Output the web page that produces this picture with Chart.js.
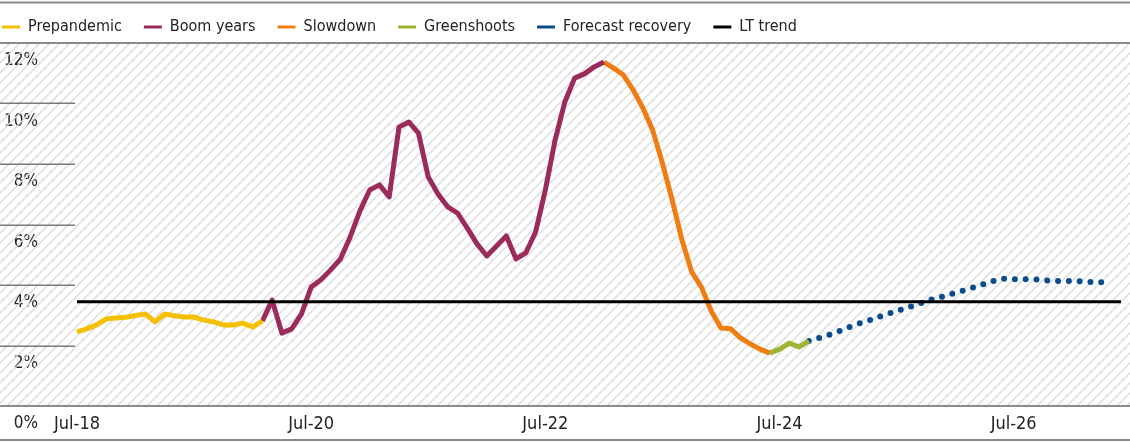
<!DOCTYPE html>
<html><head><meta charset="utf-8">
<script src="https://cdn.jsdelivr.net/npm/chart.js@4.4.0/dist/chart.umd.min.js"></script>
<style>html,body{margin:0;padding:0;background:#fff;}#wrap{width:1130px;height:443px;}</style>
</head><body><div id="wrap"><canvas id="c" width="1130" height="443"></canvas></div>
<script>
// ---- data ----
const startYear = 18, startMonthIndex = 6, monthCount = 108; // Jul-18 .. Jun-27
const tickLabels = ['Jul-18', 'Jul-20', 'Jul-22', 'Jul-24', 'Jul-26'];
const yTickValues = [0, 2, 4, 6, 8, 10, 12];

const prepandemicStart = 0;
const prepandemic = [2.45, 2.55, 2.68, 2.88, 2.91, 2.93, 2.99, 3.04, 2.78, 3.04, 2.98, 2.94, 2.94, 2.84, 2.78, 2.68, 2.68, 2.74, 2.61, 2.81];
const boomStart = 19;
const boomYears = [2.81, 3.50, 2.41, 2.55, 3.04, 3.93, 4.17, 4.50, 4.86, 5.59, 6.45, 7.14, 7.31, 6.91, 9.22, 9.39, 9.02, 7.57, 7.01, 6.58, 6.38, 5.88, 5.36, 4.96, 5.29, 5.62, 4.86, 5.06, 5.75, 7.14, 8.79, 10.05, 10.84, 10.98, 11.21, 11.37];
const slowdownStart = 54;
const slowdown = [11.37, 11.17, 10.94, 10.45, 9.85, 9.12, 8.03, 6.81, 5.49, 4.43, 3.93, 3.14, 2.58, 2.55, 2.25, 2.05, 1.88, 1.75];
const greenshootsStart = 71;
const greenshoots = [1.75, 1.88, 2.08, 1.95, 2.15];
const forecastStart = 75;
const forecast = [2.15, 2.24, 2.34, 2.46, 2.59, 2.71, 2.81, 2.92, 3.04, 3.14, 3.24, 3.35, 3.46, 3.56, 3.64, 3.74, 3.83, 3.93, 4.04, 4.14, 4.21, 4.19, 4.19, 4.19, 4.16, 4.14, 4.13, 4.13, 4.12, 4.10, 4.09, 4.09];
const ltTrend = 3.45;

// ---- build ----
const monthNames = ['Jan','Feb','Mar','Apr','May','Jun','Jul','Aug','Sep','Oct','Nov','Dec'];
const categories = [];
for (let i = 0; i < monthCount; i++) {
  const m = (startMonthIndex + i) % 12;
  const y = startYear + Math.floor((startMonthIndex + i) / 12);
  categories.push(monthNames[m] + '-' + String(y).padStart(2, '0'));
}
function place(start, vals) {
  const arr = new Array(monthCount).fill(null);
  vals.forEach((v, k) => { arr[start + k] = v; });
  return arr;
}
const FONT = '"DejaVu Sans Condensed", "Liberation Sans Narrow", "Roboto", sans-serif';
const TEXT = '#222222';

const base = { pointRadius: 0, pointHoverRadius: 0, tension: 0, borderWidth: 5, fill: false, borderJoinStyle: 'round', borderCapStyle: 'butt', spanGaps: false, order: 1 };
const datasets = [
  Object.assign({}, base, { label: 'Prepandemic', data: place(prepandemicStart, prepandemic), borderColor: '#F5C000', backgroundColor: '#F5C000' }),
  Object.assign({}, base, { label: 'Boom years', data: place(boomStart, boomYears), borderColor: '#9B2B5A', backgroundColor: '#9B2B5A' }),
  Object.assign({}, base, { label: 'Slowdown', data: place(slowdownStart, slowdown), borderColor: '#F07D14', backgroundColor: '#F07D14' }),
  Object.assign({}, base, { label: 'Greenshoots', data: place(greenshootsStart, greenshoots), borderColor: '#9CB532', backgroundColor: '#9CB532' }),
  Object.assign({}, base, { label: 'Forecast recovery', data: place(forecastStart, forecast), borderColor: '#0A4D8C', backgroundColor: '#0A4D8C', borderWidth: 6, borderDash: [0, 10.8], borderCapStyle: 'round' }),
  Object.assign({}, base, { label: 'LT trend', data: categories.map(() => ltTrend), borderColor: '#000000', backgroundColor: '#000000', borderWidth: 3, order: 0 })
];

const framePlugin = {
  id: 'frame',
  afterLayout(chart) {
    if (chart.legend) { chart.legend.left -= 20; chart.legend.top = -3; }
  },
  beforeDatasetsDraw(chart) {
    const ctx = chart.ctx, ys = chart.scales.y, W = chart.width, H = chart.height;
    const top = ys.getPixelForValue(12), bot = ys.getPixelForValue(0);
    ctx.save();
    ctx.beginPath(); ctx.rect(0, top, W, bot - top); ctx.clip();
    ctx.strokeStyle = '#d9d9d9'; ctx.lineWidth = 1.3;
    ctx.beginPath();
    const h = bot - top;
    for (let x = -h; x < W + h; x += 10) { ctx.moveTo(x, bot); ctx.lineTo(x + h, top); }
    ctx.stroke();
    ctx.restore();
    ctx.save();
    ctx.strokeStyle = '#7a7a7a'; ctx.lineWidth = 1.5;
    yTickValues.forEach(v => {
      if (v === 0 || v === 12) return;
      const py = Math.round(ys.getPixelForValue(v)) + 0.25;
      ctx.beginPath(); ctx.moveTo(0, py); ctx.lineTo(75, py); ctx.stroke();
    });
    ctx.strokeStyle = '#8a8a8a'; ctx.lineWidth = 2;
    [2.5, top, bot, H - 3].forEach(py => { ctx.beginPath(); ctx.moveTo(0, py); ctx.lineTo(W, py); ctx.stroke(); });
    ctx.restore();
  }
};

new Chart(document.getElementById('c'), {
  type: 'line',
  data: { labels: categories, datasets },
  options: {
    responsive: false, animation: false, devicePixelRatio: 1,
    layout: { padding: { left: 0, right: 9, top: 0, bottom: 0 } },
    plugins: {
      legend: {
        position: 'top', align: 'start', maxHeight: 43,
        labels: {
          boxWidth: 18, boxHeight: 3, padding: 22, color: TEXT,
          font: { family: FONT, size: 16 },
          generateLabels: (chart) => chart.data.datasets.map((ds, i) => ({
            text: ds.label, fillStyle: ds.borderColor, strokeStyle: ds.borderColor, lineWidth: 0,
            hidden: false, datasetIndex: i, fontColor: TEXT
          }))
        }
      },
      tooltip: { enabled: false }
    },
    scales: {
      x: {
        type: 'category', offset: false,
        grid: { display: false, drawTicks: false }, border: { display: false },
        ticks: {
          autoSkip: false, maxRotation: 0, minRotation: 0, padding: 8, color: TEXT,
          font: { family: FONT, size: 18 },
          callback: (v, i) => tickLabels.includes(categories[i]) ? categories[i] : ''
        },
        afterFit: (s) => { s.height = 37; s.paddingLeft = 0; s.paddingRight = 0; }
      },
      y: {
        min: 0, max: 12,
        grid: { display: false, drawTicks: false }, border: { display: false },
        ticks: {
          stepSize: 2, labelOffset: 18, padding: 39, color: TEXT,
          font: { family: FONT, size: 17 },
          callback: (v) => v + '%'
        },
        afterFit: (s) => { s.width = 77; s.paddingTop = 0; s.paddingBottom = 0; }
      }
    }
  },
  plugins: [framePlugin]
});
</script></body></html>
